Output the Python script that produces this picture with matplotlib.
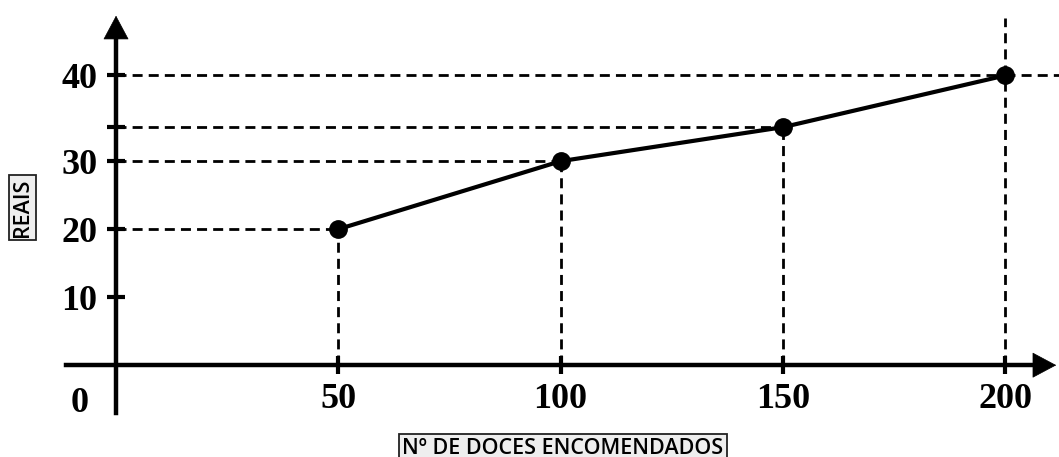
import matplotlib.pyplot as plt
import numpy as np

# encomendas de doces x valor em reais
doces = [50, 100, 150, 200]
reais = [20, 30, 35, 40]

x_ticks = [50, 100, 150, 200]
y_ticks = [10, 20, 30, 35, 40]
y_tick_labels = ['10', '20', '30', '', '40']

x_label = 'Nº DE DOCES ENCOMENDADOS'
y_label = 'REAIS'

# the original drawing is not to scale above 35 (35 -> 40 is stretched)
_data = [-100, 0, 35, 40, 100]
_draw = [-100, 0, 35, 42.6, 102.6]


def fwd(v):
    return np.interp(v, _data, _draw)


def inv(v):
    return np.interp(v, _draw, _data)


num_font = dict(family='Liberation Serif', weight='bold', size=26)
lab_font = dict(family='Open Sans', weight='semibold', size=15.5)

fig = plt.figure(figsize=(10.59, 4.57), dpi=100)
ax = fig.add_axes([0, 0, 1, 1])
ax.set_yscale('function', functions=(fwd, inv))
ax.set_xlim(-26.1, 212.1)
ax.set_ylim(-13.5, 51.1)

for s in ['top', 'right']:
    ax.spines[s].set_visible(False)
ax.spines['left'].set_position(('data', 0))
ax.spines['bottom'].set_position(('data', 0))
ax.spines['left'].set_bounds(-7.1, 47)
ax.spines['bottom'].set_bounds(-11.2, 208)
ax.spines['left'].set_linewidth(3.2)
ax.spines['bottom'].set_linewidth(3.2)

head = dict(arrowstyle='-|>,head_length=0.9,head_width=0.48',
            color='black', lw=0.5, mutation_scale=18)
ax.annotate('', xy=(0, 49.2), xytext=(0, 45), arrowprops=head)
ax.annotate('', xy=(212.1, 0), xytext=(205, 0), arrowprops=head)

ax.set_xticks(x_ticks)
ax.set_xticklabels([str(v) for v in x_ticks], fontdict=num_font)
ax.set_yticks(y_ticks)
ax.set_yticklabels(y_tick_labels, fontdict=num_font)
ax.tick_params(axis='both', direction='inout', length=13, width=3, color='black')
ax.tick_params(axis='y', pad=7)
ax.tick_params(axis='x', pad=6)
ax.text(-8.1, -3.2, '0', ha='center', va='top', **num_font)

dash = dict(color='black', lw=2, linestyle=(0, (3.6, 2.2)), zorder=1)
for x, y in zip(doces, reais):
    ax.plot([x, x], [0, y], **dash)
    ax.plot([0, x], [y, y], **dash)
# the last guides run past the point
ax.plot([doces[-1], doces[-1]], [reais[-1], 48.4], **dash)
ax.plot([doces[-1], 212.1], [reais[-1], reais[-1]], **dash)

ax.plot(doces, reais, color='black', lw=3, marker='o', markersize=12.5, zorder=3)

box = dict(boxstyle='square,pad=0.15', facecolor='#eeeeee', edgecolor='#222222', lw=1.3)
ax.text(-21.1, 23.2, y_label, rotation=90, ha='center', va='center', bbox=box, **lab_font)
ax.text(100.5, -12.2, x_label, ha='center', va='center', bbox=box, **lab_font)

fig.savefig('out.png', dpi=100)
